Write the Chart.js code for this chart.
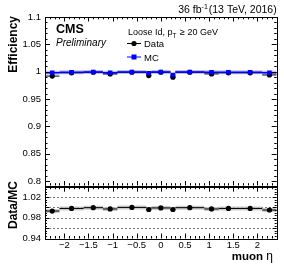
<!DOCTYPE html>
<html><head><meta charset="utf-8">
<script src="https://cdn.jsdelivr.net/npm/chart.js@4"></script>
<style>
html,body{margin:0;padding:0;background:#fff;}
#wrap{position:relative;width:284px;height:267px;overflow:hidden;}
canvas{position:absolute;left:0;top:0;}
</style></head><body>
<div id="wrap"><canvas id="top" width="284" height="267"></canvas><canvas id="bot" width="284" height="267"></canvas></div>
<script>
// ---- data ----
const binEdges = [-2.4,-2.1,-1.6,-1.2,-0.9,-0.3,-0.2,0.2,0.3,0.9,1.2,1.6,2.1,2.4];
const dataEff  = [0.992,0.998,0.999,0.996,0.999,0.993,0.999,0.990,0.999,0.996,0.998,0.998,0.994];
const mcEff    = [0.998,0.999,0.9995,0.998,0.9995,0.997,0.9995,0.994,0.9995,0.999,0.999,0.999,0.998];
const ratioVal = [0.993,0.998,0.9995,0.997,1.000,0.996,0.999,0.996,0.9995,0.997,0.998,0.998,0.995];
const xTicks     = [-2,-1.5,-1,-0.5,0,0.5,1,1.5,2];
const effTicks   = [0.8,0.85,0.9,0.95,1,1.05,1.1];
const ratioTicks = [0.94,0.96,0.98,1,1.02];
const ratioGrid  = [0.96,0.98,1,1.02];

const FONT = "'Liberation Sans', Arial, Helvetica, sans-serif";
const L = 45, R = 276.7;

function centers(vals){ return vals.map((v,i)=>({x:(binEdges[i]+binEdges[i+1])/2, y:v})); }
function segs(vals){
  const out=[];
  vals.forEach((v,i)=>{ out.push({x:binEdges[i],y:v},{x:binEdges[i+1],y:v},{x:binEdges[i+1],y:null}); });
  return out;
}
function fmt(v){ const s = String(+v.toFixed(3)); return s.replace('-', '\u2212'); }

const frameTicks = {
  id:'frameTicks',
  afterDatasetsDraw(chart, args, o){
    const {ctx, chartArea:a} = chart;
    const xs = chart.scales.x, ys = chart.scales.y;
    ctx.save();
    ctx.strokeStyle='#000'; ctx.lineWidth=1;
    ctx.beginPath();
    const step=(lo,hi,st,f)=>{ const n=Math.round((hi-lo)/st); for(let k=0;k<=n;k++){ f(lo+k*st); } };
    step(-2.4,2.4,0.1,v=>{
      const major = Math.abs(v*2-Math.round(v*2))<1e-6;
      const len = major?o.xMaj:o.xMin;
      const px = Math.round(xs.getPixelForValue(v))+0.5;
      ctx.moveTo(px,a.bottom); ctx.lineTo(px,a.bottom-len);
      ctx.moveTo(px,a.top); ctx.lineTo(px,a.top+len);
    });
    step(o.yLo,o.yHi,o.yMinStep,v=>{
      const r = v/o.yMajStep;
      const major = Math.abs(r-Math.round(r))<1e-6;
      const len = major?o.yMaj:o.yMin;
      const py = Math.round(ys.getPixelForValue(v))+0.5;
      if(py<a.top-0.1||py>a.bottom+0.6) return;
      ctx.moveTo(a.left,py); ctx.lineTo(a.left+len,py);
      ctx.moveTo(a.right,py); ctx.lineTo(a.right-len,py);
    });
    ctx.stroke();
    ctx.strokeRect(Math.round(a.left)+0.5, Math.round(a.top)+0.5, Math.round(a.right-a.left), Math.round(a.bottom-a.top));
    ctx.restore();
  }
};

const dashGrid = {
  id:'dashGrid',
  beforeDatasetsDraw(chart, args, o){
    if(!o.values) return;
    const {ctx, chartArea:a} = chart; const ys = chart.scales.y;
    ctx.save(); ctx.strokeStyle='#777'; ctx.lineWidth=1; ctx.setLineDash([2,2]);
    ctx.beginPath();
    o.values.forEach(v=>{ const py=Math.round(ys.getPixelForValue(v))+0.5; ctx.moveTo(a.left,py); ctx.lineTo(a.right,py); });
    ctx.stroke(); ctx.restore();
  }
};

const topTexts = {
  id:'topTexts',
  afterDraw(chart){
    const ctx = chart.ctx;
    ctx.save(); ctx.fillStyle='#000'; ctx.textBaseline='alphabetic';
    ctx.font = "10.5px "+FONT;
    const p1="36 fb", p3="(13 TeV, 2016)";
    const w1=ctx.measureText(p1).width, w3=ctx.measureText(p3).width;
    ctx.font = "7px "+FONT; const w2=ctx.measureText("-1").width;
    let x0 = R - (w1+w2+w3+1);
    ctx.font = "10.5px "+FONT; ctx.fillText(p1,x0,13);
    ctx.font = "7px "+FONT; ctx.fillText("-1",x0+w1,8.5);
    ctx.font = "10.5px "+FONT; ctx.fillText(p3,x0+w1+w2+1,13);
    ctx.font = "bold 12.5px "+FONT; ctx.fillText("CMS",56,33);
    ctx.font = "italic 10px "+FONT; ctx.fillText("Preliminary",56,45.5);
    ctx.font = "9px "+FONT; const s1="Loose Id, p"; ctx.fillText(s1,128,34.5);
    const ws1=ctx.measureText(s1).width;
    ctx.font = "6.5px "+FONT; ctx.fillText("T",128+ws1,37.5); const wt=ctx.measureText("T").width;
    ctx.font = "9px "+FONT; ctx.fillText(" \u2265 20 GeV",128+ws1+wt+1,34.5);
    ctx.lineWidth=1;
    ctx.strokeStyle='#000'; ctx.beginPath(); ctx.moveTo(127,43.5); ctx.lineTo(141,43.5); ctx.stroke();
    ctx.beginPath(); ctx.arc(134,43.5,2.6,0,Math.PI*2); ctx.fill();
    ctx.font = "9.5px "+FONT; ctx.fillText("Data",144,47);
    ctx.strokeStyle='#0000ff'; ctx.fillStyle='#0000ff'; ctx.beginPath(); ctx.moveTo(127,57); ctx.lineTo(141,57); ctx.stroke();
    ctx.fillRect(131.5,54.5,5,5);
    ctx.fillStyle='#000'; ctx.fillText("MC",144,60.5);
    ctx.save(); ctx.translate(16.5,16); ctx.rotate(-Math.PI/2);
    ctx.font = "bold 12px "+FONT; ctx.textAlign='right'; ctx.fillText("Efficiency",0,0);
    ctx.restore();
    ctx.restore();
  }
};

const botTexts = {
  id:'botTexts',
  afterDraw(chart){
    const ctx = chart.ctx;
    ctx.save(); ctx.fillStyle='#000';
    ctx.save(); ctx.translate(16.5,205); ctx.rotate(-Math.PI/2);
    ctx.font = "bold 12px "+FONT; ctx.textAlign='center'; ctx.fillText("Data/MC",0,0);
    ctx.restore();
    ctx.textAlign='left';
    ctx.font = "12px "+FONT; const we = ctx.measureText("\u03b7").width;
    ctx.font = "bold 11.5px "+FONT; const wm = ctx.measureText("muon ").width;
    const xs = 273 - we - wm;
    ctx.fillText("muon ", xs, 259.5);
    ctx.font = "12px "+FONT; ctx.fillText("\u03b7", xs+wm, 259.5);
    ctx.restore();
  }
};

const base = {
  responsive:false, animation:false, events:[],
  plugins:{legend:{display:false}, tooltip:{enabled:false}},
};
function lineDs(data,color,width){
  return {type:'line', data, borderColor:color, borderWidth:width, pointRadius:0, spanGaps:false, fill:false, tension:0};
}
function ptDs(data,color,style,r){
  return {type:'scatter', data, backgroundColor:color, borderColor:color, pointStyle:style, pointRadius:r, borderWidth:0, showLine:false};
}

// first dataset is drawn on top
new Chart(document.getElementById('top'), {
  type:'scatter',
  data:{datasets:[
    ptDs(centers(mcEff),'#0000ff','rect',3.2),
    ptDs(centers(dataEff),'#000','circle',2.6),
    lineDs(segs(mcEff),'#0000ff',1.5),
    lineDs(segs(dataEff),'#000',1),
    lineDs(segs(mcEff),'rgba(110,110,255,0.45)',4),
  ]},
  options:Object.assign({}, base, {
    layout:{padding:{top:17,right:284-R,bottom:81.5,left:0}},
    scales:{
      x:{type:'linear',min:-2.4,max:2.4,display:false},
      y:{type:'linear',min:0.792,max:1.1,
         afterBuildTicks:s=>{s.ticks=effTicks.map(v=>({value:v}));},
         afterFit:s=>{s.width=L;},
         grid:{display:false,drawTicks:false}, border:{display:false},
         ticks:{padding:4,color:'#000',font:{family:FONT,size:9.5},callback:v=>fmt(v)}}
    },
    plugins:Object.assign({}, base.plugins, {
      frameTicks:{xMaj:4.5,xMin:2.3,yLo:0.8,yHi:1.1,yMajStep:0.05,yMinStep:0.01,yMaj:5,yMin:2.5},
      dashGrid:{}
    })
  }),
  plugins:[dashGrid, frameTicks, topTexts]
});

new Chart(document.getElementById('bot'), {
  type:'scatter',
  data:{datasets:[
    ptDs(centers(ratioVal),'#000','circle',2.6),
    lineDs(segs(ratioVal),'#000',1),
    lineDs(segs(ratioVal),'rgba(190,190,190,0.8)',4),
  ]},
  options:Object.assign({}, base, {
    layout:{padding:{top:186.7,right:284-R,bottom:0,left:0}},
    scales:{
      x:{type:'linear',min:-2.4,max:2.4,
         afterBuildTicks:s=>{s.ticks=xTicks.map(v=>({value:v}));},
         afterFit:s=>{s.height=267-238.5;},
         grid:{display:false,drawTicks:false}, border:{display:false},
         ticks:{padding:1,color:'#000',maxRotation:0,autoSkip:false,font:{family:FONT,size:9.5},callback:v=>fmt(v)}},
      y:{type:'linear',min:0.94,max:1.04,
         afterBuildTicks:s=>{s.ticks=ratioTicks.map(v=>({value:v}));},
         afterFit:s=>{s.width=L;},
         grid:{display:false,drawTicks:false}, border:{display:false},
         ticks:{padding:4,color:'#000',font:{family:FONT,size:9.5},callback:v=>fmt(v)}}
    },
    plugins:Object.assign({}, base.plugins, {
      frameTicks:{xMaj:5,xMin:2.5,yLo:0.94,yHi:1.04,yMajStep:0.02,yMinStep:0.005,yMaj:4,yMin:2},
      dashGrid:{values:ratioGrid}
    })
  }),
  plugins:[dashGrid, frameTicks, botTexts]
});
</script>
</body></html>
